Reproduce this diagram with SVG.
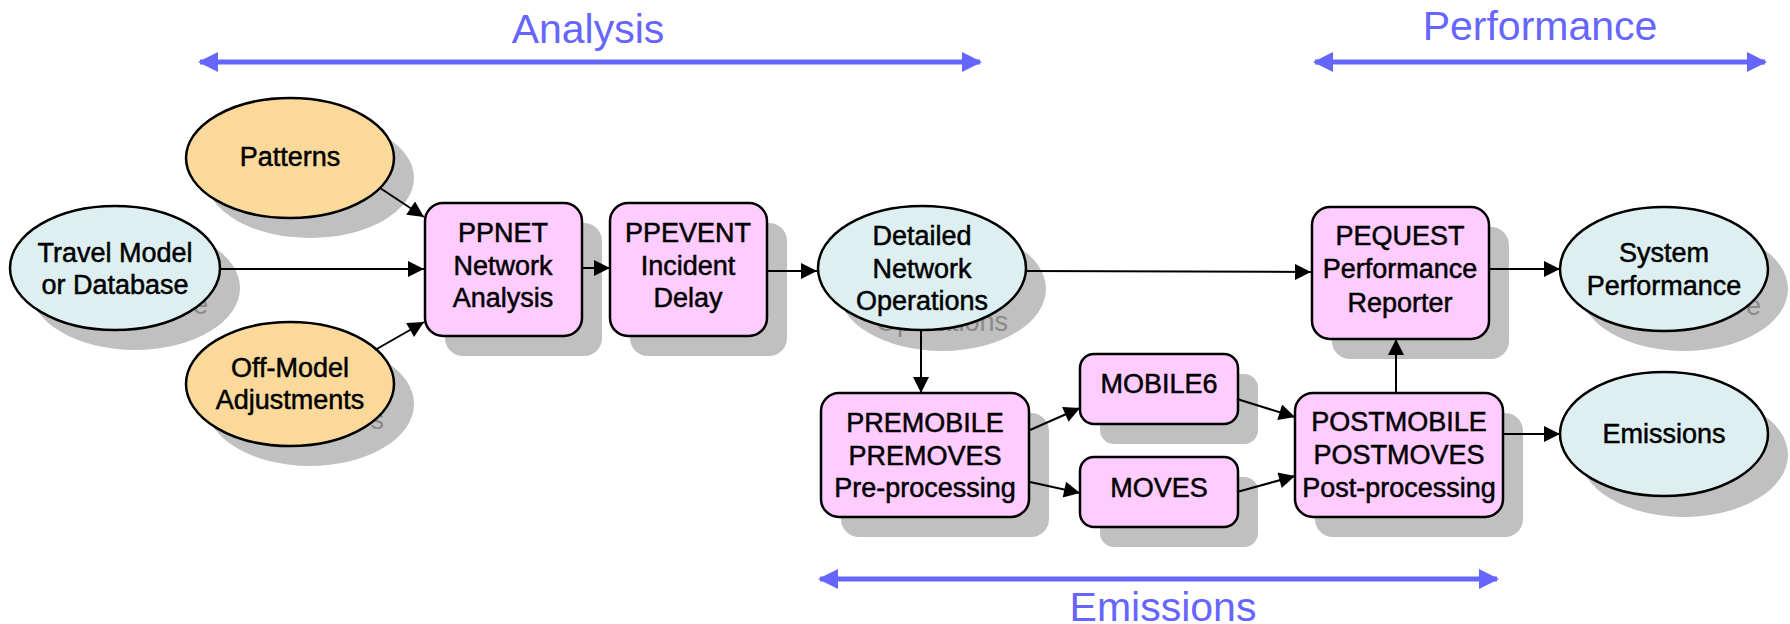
<svg xmlns="http://www.w3.org/2000/svg" width="1790" height="624" viewBox="0 0 1790 624">
<style>
.bg{fill:#ffffff}
.shadow{fill:#c0c0c0;stroke:none}
.ghost{font-family:"Liberation Sans",Arial,sans-serif;font-size:27px;fill:#8a8a8a}
.box{fill:#ffccff;stroke:#000;stroke-width:2.5}
.ellB{fill:#ddeff0;stroke:#000;stroke-width:2.5}
.ellO{fill:#fad99b;stroke:#000;stroke-width:2.5}
.t{font-family:"Liberation Sans",Arial,sans-serif;font-size:27px;fill:#000;stroke:#000;stroke-width:0.5;text-anchor:middle}
.conn{stroke:#000;stroke-width:2;fill:none;marker-end:url(#ah)}
.band{stroke:#6666ff;stroke-width:5;fill:none;marker-start:url(#bh);marker-end:url(#bh)}
.bt{font-family:"Liberation Sans",Arial,sans-serif;font-size:41px;fill:#6666ff;text-anchor:middle}
</style>
<defs>
<marker id="ah" viewBox="0 0 10 10" refX="10" refY="5" markerUnits="userSpaceOnUse" markerWidth="18" markerHeight="16" orient="auto"><path d="M0,0 L10,5 L0,10 z" fill="#000"/></marker>
<marker id="bh" viewBox="0 0 10 10" refX="9" refY="5" markerUnits="userSpaceOnUse" markerWidth="20" markerHeight="20" orient="auto-start-reverse"><path d="M0,0 L10,5 L0,10 z" fill="#6666ff"/></marker>
</defs>
<rect class="bg" x="0" y="0" width="1790" height="624"/>

<g id="band-analysis">
<line class="band" x1="200" y1="62" x2="980" y2="62"/>
<text class="bt" x="588" y="43">Analysis</text>
</g>
<g id="band-performance">
<line class="band" x1="1315" y1="62" x2="1765" y2="62"/>
<text class="bt" x="1540" y="40">Performance</text>
</g>
<g id="band-emissions">
<line class="band" x1="820" y1="579" x2="1497" y2="579"/>
<text class="bt" x="1163" y="621">Emissions</text>
</g>

<g id="patterns">
<ellipse class="shadow" cx="310" cy="178" rx="104" ry="60"/>
<ellipse class="ellO" cx="290" cy="158" rx="104" ry="60"/>
<text class="t" x="290" y="166">Patterns</text>
</g>
<g id="travel-model">
<ellipse class="shadow" cx="135" cy="288" rx="105" ry="62"/>
<text class="ghost" x="208" y="314" text-anchor="end">e</text>
<ellipse class="ellB" cx="115" cy="268" rx="105" ry="62"/>
<text class="t" x="115" y="262">Travel Model</text>
<text class="t" x="115" y="294">or Database</text>
</g>
<g id="off-model">
<ellipse class="shadow" cx="310" cy="404" rx="104" ry="62"/>
<text class="ghost" x="384" y="429" text-anchor="end">s</text>
<ellipse class="ellO" cx="290" cy="384" rx="104" ry="62"/>
<text class="t" x="290" y="377">Off-Model</text>
<text class="t" x="290" y="409">Adjustments</text>
</g>
<g id="ppnet">
<rect class="shadow" x="445" y="223" width="157" height="133" rx="18"/>
<rect class="box" x="425" y="203" width="157" height="133" rx="18"/>
<text class="t" x="503" y="242">PPNET</text>
<text class="t" x="503" y="275">Network</text>
<text class="t" x="503" y="307">Analysis</text>
</g>
<g id="ppevent">
<rect class="shadow" x="630" y="223" width="157" height="133" rx="18"/>
<rect class="box" x="610" y="203" width="157" height="133" rx="18"/>
<text class="t" x="688" y="242">PPEVENT</text>
<text class="t" x="688" y="275">Incident</text>
<text class="t" x="688" y="307">Delay</text>
</g>
<g id="detailed-network-operations">
<ellipse class="shadow" cx="942" cy="289" rx="104" ry="62"/>
<text class="ghost" x="942" y="331" text-anchor="middle">Operations</text>
<ellipse class="ellB" cx="922" cy="268" rx="104" ry="62"/>
<text class="t" x="922" y="245">Detailed</text>
<text class="t" x="922" y="278">Network</text>
<text class="t" x="922" y="310">Operations</text>
</g>
<g id="pequest">
<rect class="shadow" x="1332" y="227" width="177" height="132" rx="18"/>
<rect class="box" x="1312" y="207" width="177" height="132" rx="18"/>
<text class="t" x="1400" y="245">PEQUEST</text>
<text class="t" x="1400" y="278">Performance</text>
<text class="t" x="1400" y="312">Reporter</text>
</g>
<g id="system-performance">
<ellipse class="shadow" cx="1684" cy="289" rx="104" ry="62"/>
<text class="ghost" x="1761" y="315" text-anchor="end">e</text>
<ellipse class="ellB" cx="1664" cy="269" rx="104" ry="62"/>
<text class="t" x="1664" y="262">System</text>
<text class="t" x="1664" y="295">Performance</text>
</g>
<g id="premobile">
<rect class="shadow" x="841" y="413" width="208" height="124" rx="18"/>
<rect class="box" x="821" y="393" width="208" height="124" rx="18"/>
<text class="t" x="925" y="432">PREMOBILE</text>
<text class="t" x="925" y="465">PREMOVES</text>
<text class="t" x="925" y="497">Pre-processing</text>
</g>
<g id="mobile6">
<rect class="shadow" x="1100" y="374" width="158" height="70" rx="14"/>
<rect class="box" x="1080" y="354" width="158" height="70" rx="14"/>
<text class="t" x="1159" y="393">MOBILE6</text>
</g>
<g id="moves">
<rect class="shadow" x="1100" y="477" width="158" height="70" rx="14"/>
<rect class="box" x="1080" y="457" width="158" height="70" rx="14"/>
<text class="t" x="1159" y="497">MOVES</text>
</g>
<g id="postmobile">
<rect class="shadow" x="1315" y="413" width="208" height="124" rx="18"/>
<rect class="box" x="1295" y="393" width="208" height="124" rx="18"/>
<text class="t" x="1399" y="431">POSTMOBILE</text>
<text class="t" x="1399" y="464">POSTMOVES</text>
<text class="t" x="1399" y="497">Post-processing</text>
</g>
<g id="emissions">
<ellipse class="shadow" cx="1684" cy="455" rx="104" ry="62"/>
<ellipse class="ellB" cx="1664" cy="434" rx="104" ry="62"/>
<text class="t" x="1664" y="443">Emissions</text>
</g>

<g id="connectors">
<line class="conn" x1="380" y1="188" x2="424" y2="217"/>
<line class="conn" x1="220" y1="269" x2="424" y2="269"/>
<line class="conn" x1="375" y1="350" x2="424" y2="322"/>
<line class="conn" x1="582" y1="268" x2="610" y2="268"/>
<line class="conn" x1="767" y1="271" x2="817" y2="271"/>
<line class="conn" x1="1027" y1="271" x2="1311" y2="272"/>
<line class="conn" x1="921" y1="330" x2="921" y2="393"/>
<line class="conn" x1="1030" y1="430" x2="1080" y2="408"/>
<line class="conn" x1="1030" y1="482" x2="1080" y2="493"/>
<line class="conn" x1="1237" y1="399" x2="1295" y2="417"/>
<line class="conn" x1="1237" y1="492" x2="1295" y2="476"/>
<line class="conn" x1="1396" y1="393" x2="1396" y2="339"/>
<line class="conn" x1="1489" y1="269" x2="1560" y2="269"/>
<line class="conn" x1="1503" y1="434" x2="1560" y2="434"/>
</g>
</svg>
